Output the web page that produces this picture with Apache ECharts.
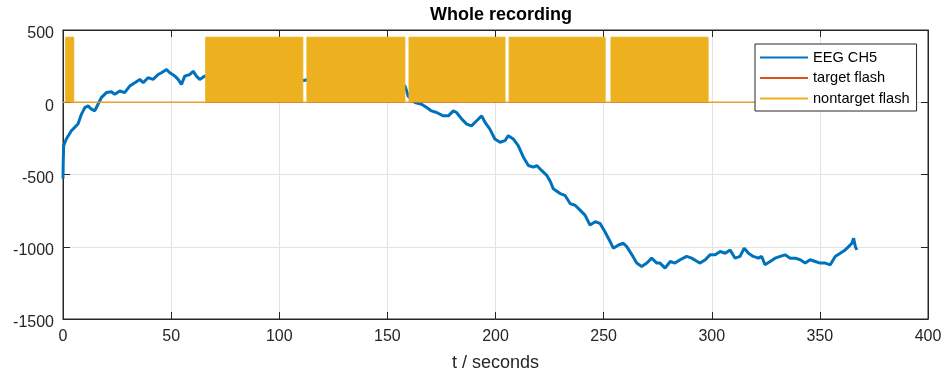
<!DOCTYPE html>
<html>
<head>
<meta charset="utf-8">
<script src="https://cdn.jsdelivr.net/npm/echarts@6/dist/echarts.min.js"></script>
<style>html,body{margin:0;padding:0;background:#fff}#c{width:947px;height:377px}</style>
</head>
<body>
<div id="c"></div>
<script>
// EEG channel 5 samples (t in seconds, value)
var eegT = [0,0.1,0.3,1.54,3.88,5.41,6.93,8.56,10.09,11.62,13.14,14.67,16.2,17.72,20.07,22.41,23.93,26.28,28.51,30.86,33.2,35.54,37.07,39.31,41.65,44.0,45.52,47.86,49.38,51.73,53.25,54.78,56.31,58.65,60.17,61.7,63.23,65.57,
  70.7,75.8,80.8,85.9,91.0,96.1,101.2,106.3,111.4,116.5,121.6,126.7,131.7,136.8,141.9,147.0,152.1,156.2,
  158.2,159.6,162.8,165.8,168.2,170.4,172.8,175.8,178.2,180.5,182.0,184.4,186.7,188.9,191.3,193.6,195.2,197.4,199.7,202.1,204.4,205.9,208.2,210.5,212.9,215.2,217.5,219.1,221.3,223.7,225.4,226.7,229.9,232.1,234.5,236.8,239.1,241.4,243.7,246.1,248.3,250.6,253.0,254.5,256.9,259.1,260.7,263.1,265.3,267.6,270.0,272.2,274.6,276.1,278.4,280.8,283.0,285.4,288.4,290.7,293.1,294.6,297.0,299.2,301.6,303.9,306.2,308.5,310.8,313.1,315.0,317.0,319.2,321.6,323.1,324.6,327.0,329.3,331.7,333.9,336.3,338.6,340.9,343.2,345.5,347.9,350.1,352.5,354.8,357.1,359.4,361.7,363.3,364.8,365.6,366.4,367.1];
var eegV = [-530,-420,-300,-254,-197,-174,-151,-82,-37,-25,-48,-60,-14,32,67,73,55,78,67,112,135,158,135,170,158,192,204,227,204,181,158,124,181,192,215,181,158,181,
  200,170,195,210,185,200,175,165,150,170,185,160,170,150,155,130,140,120,
  112,43,-2,-14,-37,-60,-71,-94,-94,-60,-71,-117,-151,-163,-128,-94,-140,-186,-254,-277,-266,-231,-254,-300,-380,-438,-449,-438,-472,-506,-550,-598,-632,-644,-701,-713,-747,-781,-850,-827,-838,-896,-964,-1010,-988,-976,-999,-1056,-1113,-1136,-1113,-1079,-1113,-1113,-1148,-1102,-1113,-1090,-1067,-1079,-1100,-1113,-1090,-1056,-1056,-1033,-1045,-1022,-1079,-1067,-1010,-1045,-1067,-1079,-1067,-1125,-1102,-1079,-1067,-1056,-1079,-1079,-1090,-1113,-1090,-1102,-1113,-1113,-1125,-1067,-1045,-1022,-999,-976,-941,-999,-1022];

// Flash blocks (start, end in seconds) and flash marker height
var flashStart = [1.25, 66.0, 112.8, 160.0, 206.3, 253.4];
var flashEnd   = [4.95, 110.9, 158.1, 204.4, 250.7, 298.3];
var flashHeight = 450;
var recEnd = 367.5;

var xTicks = [0, 400, 50];
var yTicks = [-1500, 500, 500];

function eegData(){ return eegT.map(function(t,i){return [t, eegV[i]];}); }
function flashData(){
  var d = [[0,0]];
  for (var i=0;i<flashStart.length;i++){
    d.push([flashStart[i],0],[flashStart[i],flashHeight],[flashEnd[i],flashHeight],[flashEnd[i],0]);
  }
  d.push([recEnd,0]);
  return d;
}
function targetData(){ return [[0,0],[recEnd,0]]; }

var txt = '#262626';
var font = 'Liberation Sans';
var chart = echarts.init(document.getElementById('c'), null, {renderer:'canvas'});
function xAx(pos, labels){
  return {type:'value', position:pos, min:xTicks[0], max:xTicks[1], interval:xTicks[2],
    name: labels ? 't / seconds' : '', nameLocation:'middle', nameGap:35,
    nameTextStyle:{color:txt, fontSize:18, fontFamily:font},
    axisLine:{show:true, onZero:false, lineStyle:{color:txt, width:1}},
    axisTick:{show:true, inside:true, length:7, lineStyle:{color:txt}},
    axisLabel:{show:labels, color:txt, fontSize:16, fontFamily:font, margin:10},
    splitLine:{show:labels, lineStyle:{color:'#e3e3e3', width:1}}};
}
function yAx(pos, labels){
  return {type:'value', position:pos, min:yTicks[0], max:yTicks[1], interval:yTicks[2],
    axisLine:{show:true, onZero:false, lineStyle:{color:txt, width:1}},
    axisTick:{show:true, inside:true, length:7, lineStyle:{color:txt}},
    axisLabel:{show:labels, color:txt, fontSize:16, fontFamily:font, margin:9,
      formatter:function(v){return '{a|' + v + '}';},
      rich:{a:{color:txt, fontSize:16, fontFamily:font, lineHeight:16, padding:[8,0,0,0]}}},
    splitLine:{show:labels, lineStyle:{color:'#e3e3e3', width:1}}};
}
chart.setOption({
  animation:false,
  title:{text:'Whole recording', left:496, textAlign:'center', top:1,
    textStyle:{color:'#000', fontSize:18, fontWeight:'bold', fontFamily:font}},
  grid:{left:63, right:19, top:30, bottom:55, show:true, borderColor:txt, borderWidth:1, backgroundColor:'#fff'},
  xAxis:[xAx('bottom', true), xAx('top', false)],
  yAxis:[yAx('left', true), yAx('right', false)],
  legend:{orient:'vertical', left:755, top:44, z:20,
    backgroundColor:'#fff', borderColor:txt, borderWidth:1, borderRadius:0,
    padding:[6,7,5,5], itemGap:5.5, itemWidth:48, itemHeight:2, icon:'rect',
    textStyle:{color:'#000', fontSize:14.6, lineHeight:15, fontFamily:font},
    data:['EEG CH5','target flash','nontarget flash']},
  series:[
    {name:'EEG CH5', type:'line', data:eegData(), showSymbol:false, symbol:'none',
     lineStyle:{color:'#0072BD', width:3}, itemStyle:{color:'#0072BD'}, z:1},
    {name:'target flash', type:'line', data:targetData(), showSymbol:false, symbol:'none',
     lineStyle:{color:'#D95319', width:1}, itemStyle:{color:'#D95319'}, z:2},
    {name:'nontarget flash', type:'line', data:flashData(), showSymbol:false, symbol:'none',
     lineStyle:{color:'#EDB120', width:1}, itemStyle:{color:'#EDB120'},
     areaStyle:{color:'#EDB120', opacity:1, origin:'auto'}, z:3}
  ]
});
</script>
</body>
</html>
